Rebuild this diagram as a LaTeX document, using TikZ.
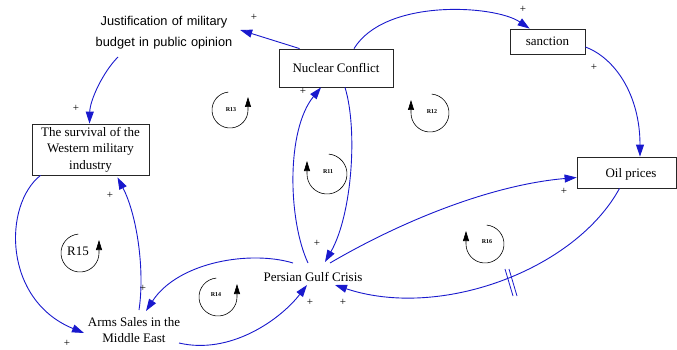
\documentclass[tikz,border=0pt]{standalone}
\usepackage{fontspec}
\setmainfont{Liberation Serif}
\newfontfamily\jsans{Liberation Sans}
\usetikzlibrary{arrows.meta}
\definecolor{cblue}{RGB}{25,25,205}
\begin{document}
\begin{tikzpicture}[x=1pt,y=1pt,
  box/.style={draw=black!85, line width=0.8pt, inner sep=0pt, font=\fontsize{13}{16.5}\selectfont, align=center},
  var/.style={inner sep=0pt, font=\fontsize{13}{16.5}\selectfont, align=center},
  link/.style={draw=cblue, line width=0.9pt, -{Triangle[length=12pt,width=8pt]}},
  pol/.style={font=\fontsize{11}{11}\selectfont, inner sep=0pt},
  loopline/.style={draw=black, line width=0.6pt, -{Triangle[length=10pt,width=6pt]}},
  looplab/.style={font=\fontsize{6}{6}\selectfont\bfseries, inner sep=0pt}]
\useasboundingbox (0,0) rectangle (677,-350);

% variables
\node[box, minimum width=114pt, minimum height=38pt] (nuc) at (336,-68) {Nuclear Conflict};
\node[box, minimum width=75pt, minimum height=25pt] (sanc) at (547.5,-41.5) {sanction};
\node[box, minimum width=117pt, minimum height=51pt, font=\fontsize{13}{16.5}\selectfont] (surv) at (90.5,-149.5) {The survival of the\\Western military\\industry};
\node[box, minimum width=99pt, minimum height=31pt] (oil) at (626.5,-172.5) {};
\node[var] (oiltxt) at (631,-174) {Oil prices};
\node[inner sep=0pt, text width=152pt, align=center, font=\jsans\fontsize{12.8}{21}\selectfont] (just) at (164,-33) {Justification of military\\budget in public opinion};
\node[var] (pgc) at (313,-277) {Persian Gulf Crisis};
\node[var] (arms) at (134,-330) {Arms Sales in the\\Middle East};

% connectors
\draw[link] ([xshift=21pt]nuc.north west) -- ([yshift=3pt]just.east);
\draw[link] ([shift={(-46pt,-24pt)}]just.center) .. controls (103,-72) and (90,-100) .. ([xshift=-1pt]surv.north);
\draw[link] ([xshift=18pt]nuc.north) .. controls (385,2) and (495,-5) .. ([xshift=20pt]sanc.north west);
\draw[link] ([yshift=-5.5pt]sanc.east) .. controls (615,-58) and (640,-95) .. ([xshift=13.5pt]oil.north);
\draw[link] ([xshift=9pt]nuc.south) .. controls (358,-130) and (352,-215) .. ([shift={(12pt,15pt)}]pgc.center);
\draw[link] ([shift={(-5pt,14pt)}]pgc.center) .. controls (288,-220) and (286,-130) .. ([xshift=-15pt]nuc.south);
\draw[link] ([shift={(-20pt,14pt)}]pgc.center) .. controls (250,-250) and (178,-262) .. ([shift={(12pt,19pt)}]arms.center);
\draw[link] ([shift={(5pt,20pt)}]arms.center) .. controls (145,-270) and (137,-215) .. ([shift={(27pt,-2pt)}]surv.south);
\draw[link] ([xshift=-50pt]surv.south) .. controls (3,-205) and (3,-300) .. ([shift={(-50pt,-3pt)}]arms.center);
\draw[link] ([shift={(45pt,-13pt)}]arms.center) .. controls (230,-355) and (280,-320) .. ([shift={(-6pt,-8pt)}]pgc.center);
\draw[link] ([shift={(17pt,14pt)}]pgc.center) .. controls (400,-222) and (490,-185) .. ([yshift=-5pt]oil.west);
\draw[link] ([xshift=-7pt]oil.south) .. controls (575,-270) and (440,-320) .. ([shift={(22pt,-8pt)}]pgc.center);

% delay mark
\draw[cblue, line width=0.8pt] (505,-269) -- (513,-296) (509,-269) -- (517,-296);

% polarities
\node[pol] (p1) at (254,-17) {+};
\node[pol] (p2) at (76,-108) {+};
\node[pol] (p3) at (523,-9) {+};
\node[pol] (p4) at (594,-67) {+};
\node[pol] (p5) at (303,-91) {+};
\node[pol] (p6) at (317,-243) {+};
\node[pol] (p7) at (143,-288) {+};
\node[pol] (p8) at (110,-195) {+};
\node[pol] (p9) at (67,-343) {+};
\node[pol] (p10) at (310,-302) {+};
\node[pol] (p11) at (343,-302) {+};
\node[pol] (p12) at (564,-191) {+};

% loop markers
\draw[loopline] (230,-110) ++(95:18) arc[start angle=95,end angle=360,radius=18] -- ++(0,13);
\node[looplab] (r13) at (231,-110) {R13};
\draw[loopline] (430,-113) ++(85:19) arc[start angle=85,end angle=-180,radius=19] -- ++(0,13);
\node[looplab] (r12) at (432,-112) {R12};
\draw[loopline] (327,-174) ++(85:20) arc[start angle=85,end angle=-180,radius=20] -- ++(0,13);
\node[looplab] (r11) at (328,-172) {R11};
\draw[loopline] (80,-253) ++(95:19) arc[start angle=95,end angle=360,radius=19] -- ++(0,13);
\node[inner sep=0pt, font=\fontsize{13}{13}\selectfont] (r15) at (78,-251) {R15};
\draw[loopline] (218,-297) ++(95:19) arc[start angle=95,end angle=360,radius=19] -- ++(0,13);
\node[looplab] (r14) at (216,-295) {R14};
\draw[loopline] (485,-244) ++(85:19) arc[start angle=85,end angle=-180,radius=19] -- ++(0,13);
\node[looplab] (r16) at (487,-242) {R16};
\end{tikzpicture}
\end{document}
